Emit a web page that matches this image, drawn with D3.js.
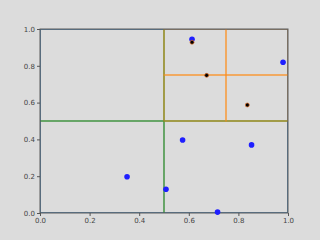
<!DOCTYPE html>
<html>
<head>
<meta charset="utf-8">
<script src="https://cdn.jsdelivr.net/npm/d3@7"></script>
<style>
  body { margin: 0; background: #dcdcdc; }
  svg { display: block; }
  .tick text { font-family: "DejaVu Sans", sans-serif; font-size: 7px; fill: #444; }
</style>
</head>
<body>
<div id="chart"></div>
<script>
// points stored in the tree
const blueX = [0.613, 0.980, 0.351, 0.575, 0.853, 0.508, 0.716];
const blueY = [0.944, 0.819, 0.197, 0.397, 0.370, 0.129, 0.005];
// highlighted points
const hitX = [0.613, 0.672, 0.836];
const hitY = [0.928, 0.748, 0.587];
// quadtree cells per depth: [x0, y0, x1, y1]
const rootCells = [[0, 0, 1, 1]];
const level1Cells = [[0, 0, 0.5, 0.5], [0.5, 0, 1, 0.5], [0, 0.5, 0.5, 1], [0.5, 0.5, 1, 1]];
const level2Cells = [[0.5, 0.5, 0.75, 0.75], [0.75, 0.5, 1, 0.75], [0.5, 0.75, 0.75, 1], [0.75, 0.75, 1, 1]];
const ticks = [0, 0.2, 0.4, 0.6, 0.8, 1.0];

const width = 320, height = 240;
const margin = { left: 40, right: 32, top: 29, bottom: 27 };

const svg = d3.select('#chart').append('svg')
    .attr('width', width)
    .attr('height', height);

svg.append('rect').attr('width', width).attr('height', height).attr('fill', '#dcdcdc');

const x = d3.scaleLinear().domain([0, 1]).range([margin.left, width - margin.right]);
const y = d3.scaleLinear().domain([0, 1]).range([height - margin.bottom, margin.top]);

svg.append('clipPath').attr('id', 'plot')
    .append('rect')
    .attr('x', x(0)).attr('y', y(1))
    .attr('width', x(1) - x(0)).attr('height', y(0) - y(1));

const cellsG = svg.append('g').attr('clip-path', 'url(#plot)');

function drawCells(cells, color, opacity) {
    cellsG.append('g')
        .selectAll('rect')
        .data(cells)
        .enter()
        .append('rect')
        .attr('x', d => x(d[0]))
        .attr('y', d => y(d[3]))
        .attr('width', d => x(d[2]) - x(d[0]))
        .attr('height', d => y(d[1]) - y(d[3]))
        .attr('fill', 'none')
        .attr('stroke', color)
        .attr('stroke-width', 1.4)
        .attr('stroke-opacity', opacity);
}

drawCells(rootCells, '#1f1fff', 0.8);
drawCells(level1Cells, '#2e8b2e', 0.6);
drawCells(level2Cells, '#ff8c1a', 0.55);

// spines on top of the cell edges
svg.append('rect')
    .attr('x', x(0)).attr('y', y(1))
    .attr('width', x(1) - x(0)).attr('height', y(0) - y(1))
    .attr('fill', 'none').attr('stroke', '#5c5c5c').attr('stroke-width', 1);

svg.append('g')
    .selectAll('circle')
    .data(blueX.map((v, i) => [v, blueY[i]]))
    .enter()
    .append('circle')
    .attr('cx', d => x(d[0]))
    .attr('cy', d => y(d[1]))
    .attr('r', 2.8)
    .attr('fill', '#1f1fff');

svg.append('g')
    .selectAll('circle')
    .data(hitX.map((v, i) => [v, hitY[i]]))
    .enter()
    .append('circle')
    .attr('cx', d => x(d[0]))
    .attr('cy', d => y(d[1]))
    .attr('r', 2)
    .attr('fill', '#000')
    .attr('stroke', '#e0702a')
    .attr('stroke-width', 0.7);

const xAxis = svg.append('g')
    .attr('transform', `translate(0,${y(0)})`)
    .call(d3.axisBottom(x).tickValues(ticks).tickFormat(d3.format('.1f')).tickSize(3).tickPadding(2));
const yAxis = svg.append('g')
    .attr('transform', `translate(${x(0)},0)`)
    .call(d3.axisLeft(y).tickValues(ticks).tickFormat(d3.format('.1f')).tickSize(3).tickPadding(2));

[xAxis, yAxis].forEach(a => {
    a.select('.domain').remove();
    a.selectAll('.tick line').attr('stroke', '#555');
});
</script>
</body>
</html>
